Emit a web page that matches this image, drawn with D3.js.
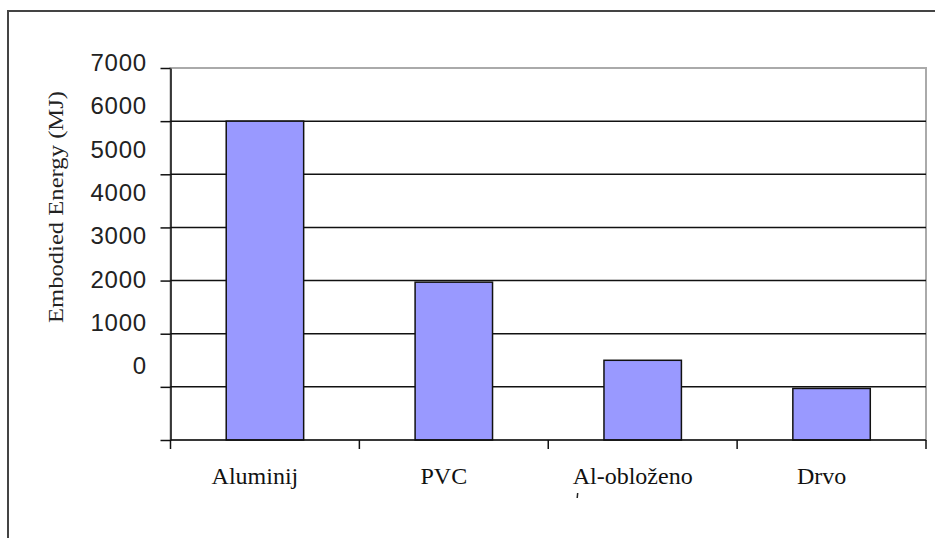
<!DOCTYPE html>
<html>
<head>
<meta charset="utf-8">
<script src="https://cdn.jsdelivr.net/npm/d3@7"></script>
<style>
  body { margin: 0; background: #fff; }
  svg { display: block; }
</style>
</head>
<body>
<div id="chart"></div>
<script>
// data
var categories = ["Aluminij", "PVC", "Al-obloženo", "Drvo"];
var energyMJ = [6000, 2970, 1500, 970];
var tickValues = [0, 1000, 2000, 3000, 4000, 5000, 6000, 7000];
var yTitle = "Embodied Energy (MJ)";

(function(){
var w = 935
, h = 538
, plotL = 170.5
, plotR = 926
, plotT = 68
, plotB = 440
, svg, x, y, yLab;

svg = d3.select("#chart")
  .append("svg")
  .attr("width", w)
  .attr("height", h);

// outer frame, runs off the right and bottom edges
svg.append("rect")
  .attr("x", 8).attr("y", 11)
  .attr("width", w).attr("height", h)
  .attr("fill", "none")
  .attr("stroke", "#444")
  .attr("stroke-width", 2);

x = d3.scaleBand()
  .domain(categories)
  .range([plotL, plotR])
  .paddingInner(0.59)
  .paddingOuter(0.295);

y = d3.scaleLinear()
  .domain([0, 7000])
  .range([plotB, plotT]);

// labels sit on their own (shifted) scale, as in the original
yLab = d3.scaleLinear()
  .domain([0, 7000])
  .range([366, 63]);

// plot area border
svg.append("rect")
  .attr("x", plotL).attr("y", plotT)
  .attr("width", plotR - plotL).attr("height", plotB - plotT)
  .attr("fill", "none")
  .attr("stroke", "#aaa")
  .attr("stroke-width", 2);

// gridlines
svg.append("g").selectAll("line")
  .data(tickValues.filter(function(d) { return d > 0 && d < 7000; }))
  .enter().append("line")
  .attr("x1", plotL).attr("x2", plotR)
  .attr("y1", function(d) { return y(d); })
  .attr("y2", function(d) { return y(d); })
  .attr("stroke", "#111")
  .attr("stroke-width", 1.5);

// bars
svg.append("g").selectAll("rect")
  .data(energyMJ)
  .enter().append("rect")
  .attr("x", function(d, i) { return x(categories[i]); })
  .attr("y", function(d) { return y(d); })
  .attr("width", x.bandwidth())
  .attr("height", function(d) { return y(0) - y(d); })
  .attr("fill", "#9999ff")
  .attr("stroke", "#111")
  .attr("stroke-width", 1.5);

// y axis line + ticks
var yAxis = svg.append("g")
  .attr("transform", "translate(" + plotL + ",0)")
  .call(d3.axisLeft(y).tickValues(tickValues).tickSize(10).tickFormat("").tickSizeOuter(0));
yAxis.select(".domain").attr("stroke", "#111").attr("stroke-width", 1.5);
yAxis.selectAll(".tick line").attr("stroke", "#111").attr("stroke-width", 1.5);

// y tick labels
var yLabels = svg.append("g")
  .attr("transform", "translate(147,0)")
  .call(d3.axisLeft(yLab).tickValues(tickValues).tickSize(0).tickPadding(0).tickFormat(d3.format("d")));
yLabels.select(".domain").remove();
yLabels.selectAll("text")
  .attr("font-family", "Liberation Sans, Arial, sans-serif")
  .attr("font-size", 24)
  .attr("letter-spacing", 0.8)
  .attr("fill", "#222");

// x axis: line along zero, ticks between categories
var bounds = categories.map(function(c) { return x(c) - x.step() * x.paddingInner() / 2; });
bounds.push(plotR);
var xAxis = svg.append("g");
xAxis.append("line")
  .attr("x1", plotL).attr("x2", plotR)
  .attr("y1", y(0)).attr("y2", y(0))
  .attr("stroke", "#111").attr("stroke-width", 1.5);
xAxis.selectAll("line.tk")
  .data(bounds)
  .enter().append("line")
  .attr("class", "tk")
  .attr("x1", function(d) { return d; }).attr("x2", function(d) { return d; })
  .attr("y1", y(0)).attr("y2", y(0) + 9)
  .attr("stroke", "#111").attr("stroke-width", 1.5);

xAxis.selectAll("text.cat")
  .data(categories)
  .enter().append("text")
  .attr("class", "cat")
  .attr("x", function(d) { return x(d) + x.bandwidth() / 2 - 10; })
  .attr("y", y(0) + 44)
  .attr("text-anchor", "middle")
  .attr("font-family", "Liberation Serif, Times New Roman, serif")
  .attr("font-size", 24)
  .attr("fill", "#111")
  .text(function(d) { return d; });

// clipped remnant of a second label line under Al-obloženo
var rx = x("Al-obloženo") + x.bandwidth() / 2 - 65;
svg.append("line")
  .attr("x1", rx).attr("x2", rx - 0.5)
  .attr("y1", y(0) + 53).attr("y2", y(0) + 58)
  .attr("stroke", "#222")
  .attr("stroke-width", 1.5);

// y title
svg.append("text")
  .attr("transform", "translate(63,207) rotate(-90)")
  .attr("text-anchor", "middle")
  .attr("font-family", "Liberation Serif, Times New Roman, serif")
  .attr("font-size", 22)
  .attr("textLength", 232)
  .attr("lengthAdjust", "spacingAndGlyphs")
  .attr("fill", "#222")
  .text(yTitle);
}());
</script>
</body>
</html>
